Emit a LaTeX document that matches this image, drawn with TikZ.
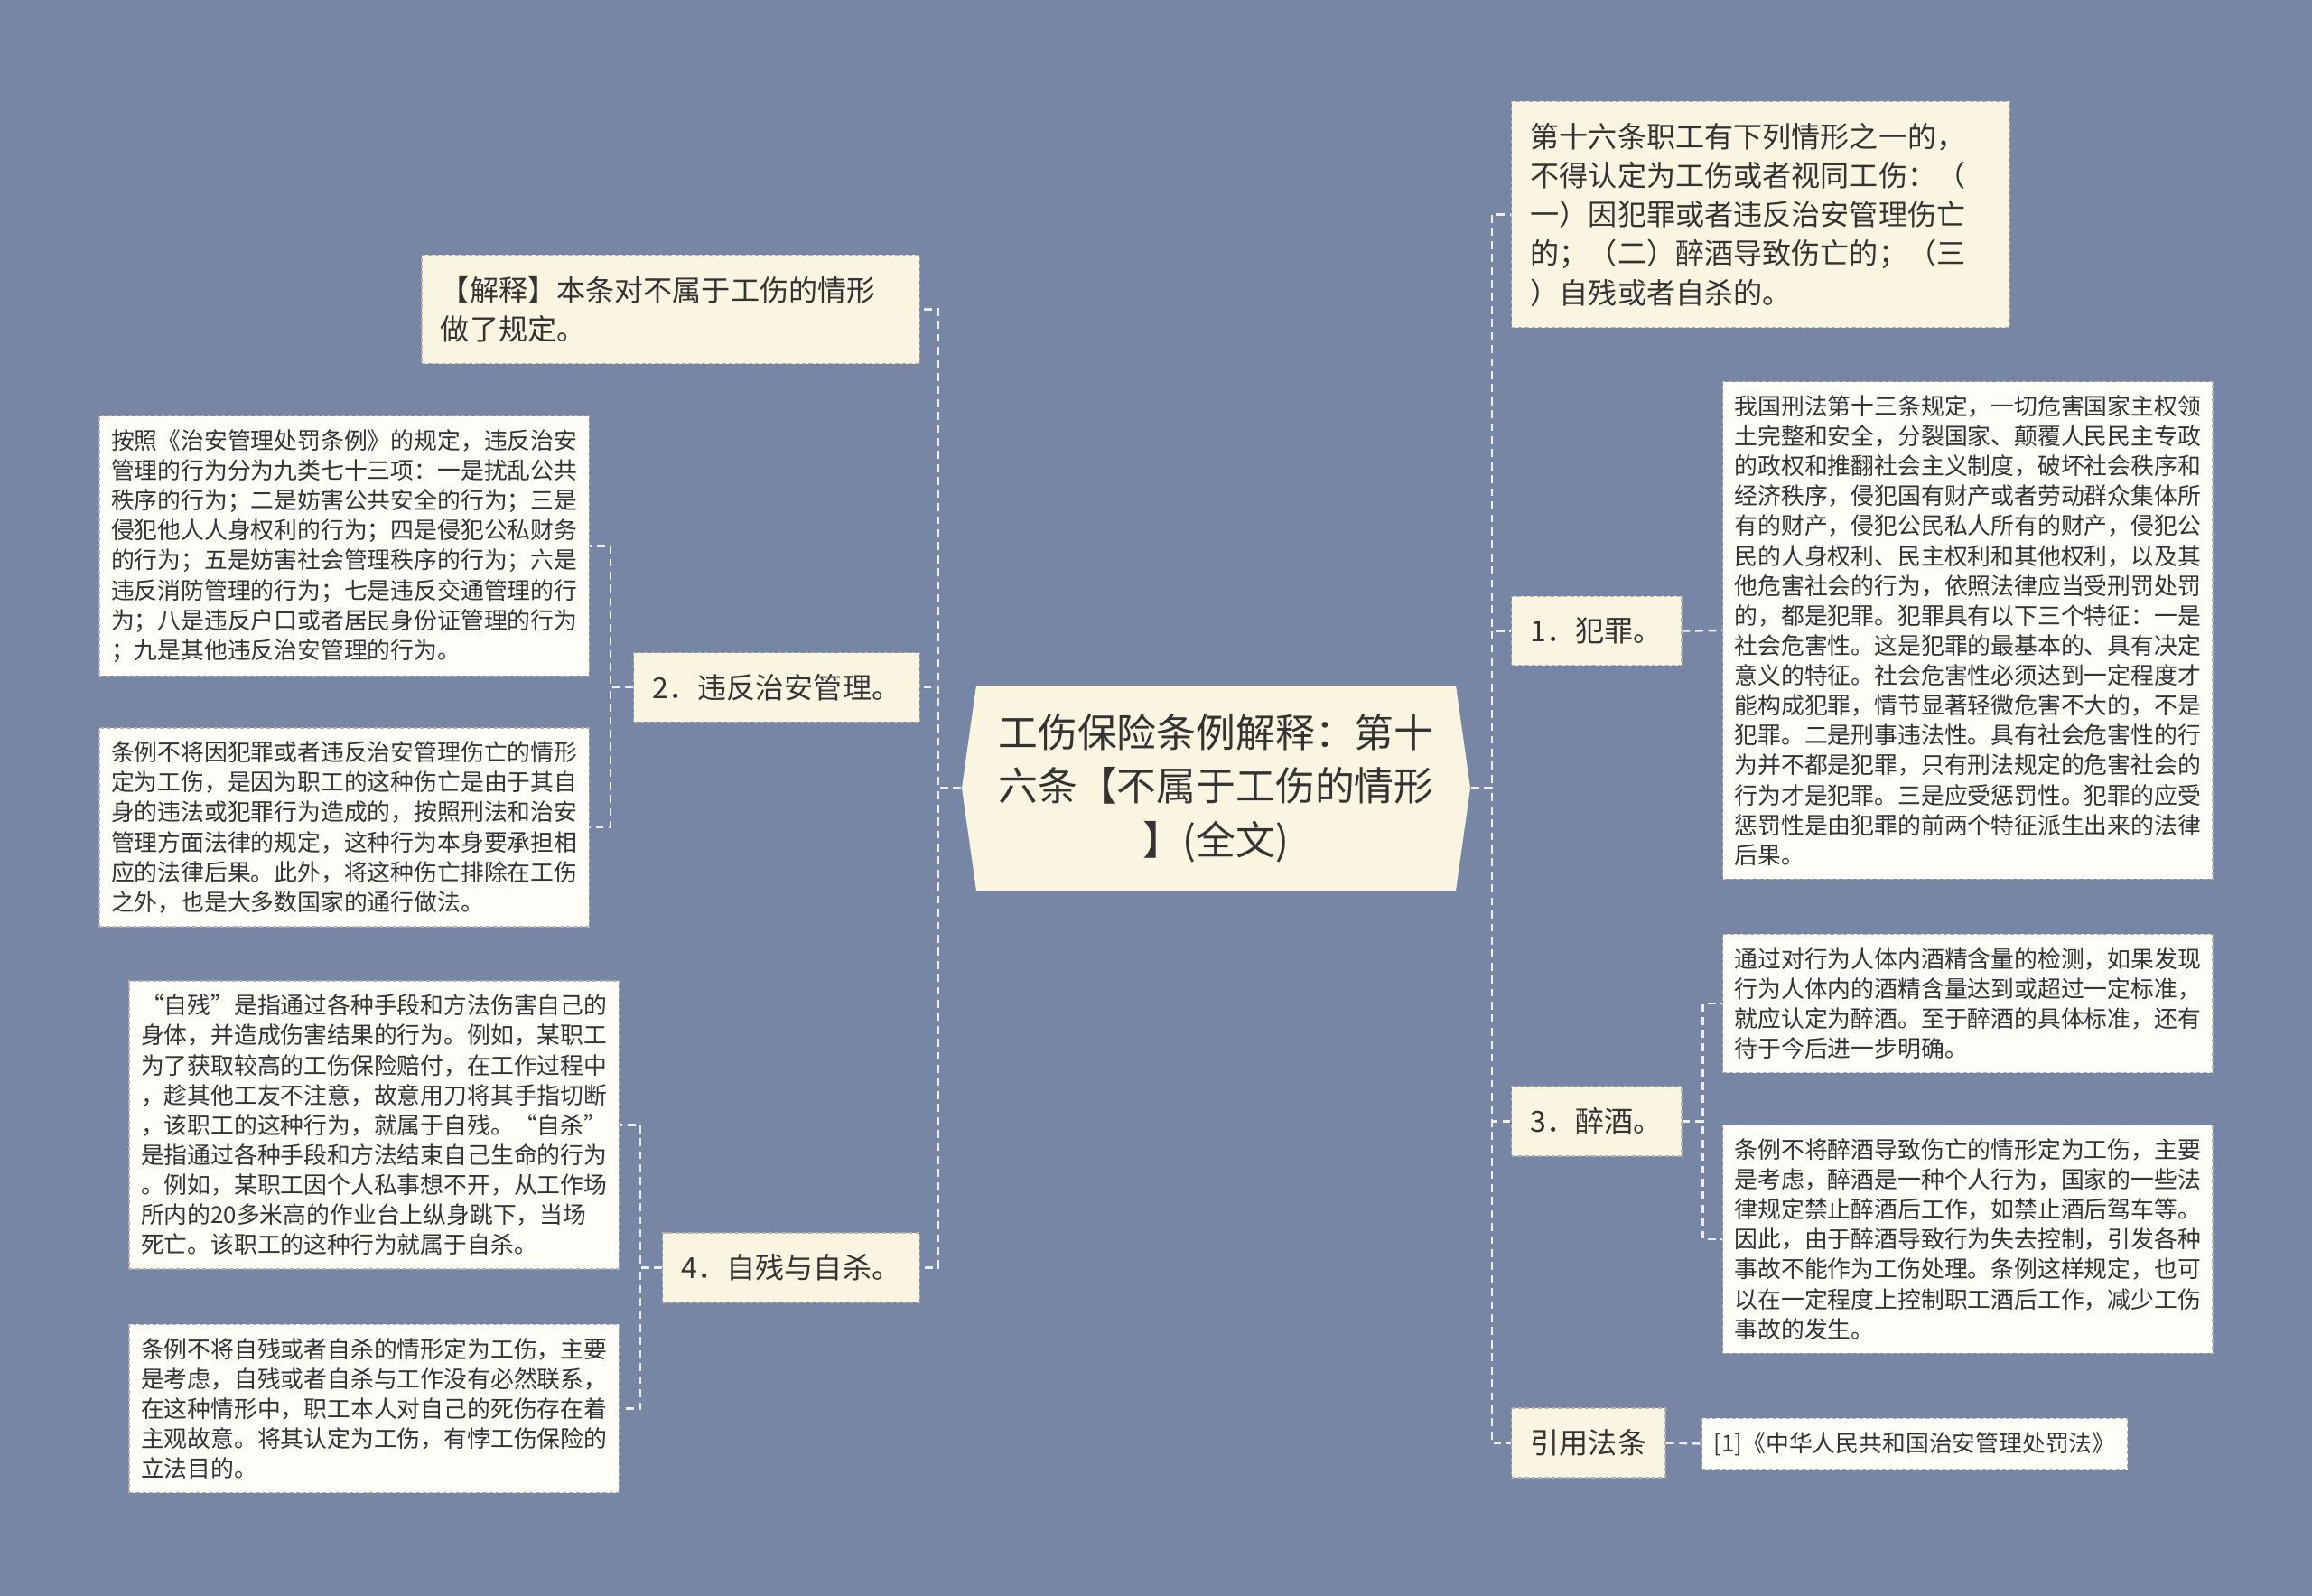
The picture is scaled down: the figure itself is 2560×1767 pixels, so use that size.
\documentclass[tikz,border=0pt]{standalone}
\usepackage{fontspec}
\setmainfont{Noto Sans CJK SC}
\definecolor{bgblue}{HTML}{7886A6}
\definecolor{cream}{HTML}{FAF5E1}
\definecolor{leafwhite}{HTML}{FEFDF7}
\definecolor{inkgray}{HTML}{333333}
\definecolor{edgegray}{HTML}{B4B2A6}
\definecolor{linkwhite}{HTML}{EEEEEE}

\begin{document}
\begin{tikzpicture}[x=0.01cm, y=-0.01cm,
    rootbox/.style={minimum width=5.63cm, minimum height=2.27cm, inner sep=0pt, align=center,
      text=inkgray, font=\fontsize{12.46pt}{16.95pt}\selectfont},
    topic/.style={draw=edgegray, dash pattern=on 1.2pt off 0.9pt, line width=0.4pt, fill=cream,
      inner xsep=0.21cm, inner ysep=0.235cm, text=inkgray, align=left,
      font=\fontsize{9.13pt}{12.3pt}\selectfont},
    widetopic/.style={topic, text width=5.09cm},
    leaf/.style={draw=edgegray, dash pattern=on 1.2pt off 0.9pt, line width=0.4pt, fill=leafwhite,
      inner xsep=0.13cm, inner ysep=0.15cm, text=inkgray, align=left,
      font=\fontsize{7.34pt}{9.42pt}\selectfont},
    link/.style={draw=linkwhite, line width=0.7pt, dash pattern=on 2.5pt off 1.6pt}]

  \fill[bgblue] (0,0) rectangle (2560,1767);

  % centre plate
  \fill[cream] (1081,759) -- (1065,872.5) -- (1081,986) -- (1612,986) -- (1628,872.5) -- (1612,759) -- cycle;
  \node[rootbox] (root) at (1346.5,872.5) {工伤保险条例解释：第十\\六条【不属于工伤的情形\\】(全文)};

  % left branches
  \node[widetopic, anchor=east] (expl) at (1019,342.5) {【解释】本条对不属于工伤的情形\\做了规定。};
  \node[topic, anchor=east] (illegal) at (1019,761) {2．违反治安管理。};
  \node[topic, anchor=east] (suicide) at (1019,1403.5) {4．自残与自杀。};

  \node[leaf, anchor=east] (illegalA) at (653,604.5) {按照《治安管理处罚条例》的规定，违反治安\\
    管理的行为分为九类七十三项：一是扰乱公共\\
    秩序的行为；二是妨害公共安全的行为；三是\\
    侵犯他人人身权利的行为；四是侵犯公私财务\\
    的行为；五是妨害社会管理秩序的行为；六是\\
    违反消防管理的行为；七是违反交通管理的行\\
    为；八是违反户口或者居民身份证管理的行为\\
    ；九是其他违反治安管理的行为。};
  \node[leaf, anchor=east] (illegalB) at (653,916) {条例不将因犯罪或者违反治安管理伤亡的情形\\
    定为工伤，是因为职工的这种伤亡是由于其自\\
    身的违法或犯罪行为造成的，按照刑法和治安\\
    管理方面法律的规定，这种行为本身要承担相\\
    应的法律后果。此外，将这种伤亡排除在工伤\\
    之外，也是大多数国家的通行做法。};

  \node[leaf, anchor=east] (suicideA) at (686,1245.5) {“自残”是指通过各种手段和方法伤害自己的\\
    身体，并造成伤害结果的行为。例如，某职工\\
    为了获取较高的工伤保险赔付，在工作过程中\\
    ，趁其他工友不注意，故意用刀将其手指切断\\
    ，该职工的这种行为，就属于自残。“自杀”\\
    是指通过各种手段和方法结束自己生命的行为\\
    。例如，某职工因个人私事想不开，从工作场\\
    所内的20多米高的作业台上纵身跳下，当场\\
    死亡。该职工的这种行为就属于自杀。};
  \node[leaf, anchor=east] (suicideB) at (686,1559.5) {条例不将自残或者自杀的情形定为工伤，主要\\
    是考虑，自残或者自杀与工作没有必然联系，\\
    在这种情形中，职工本人对自己的死伤存在着\\
    主观故意。将其认定为工伤，有悖工伤保险的\\
    立法目的。};

  % right branches
  \node[widetopic, anchor=west] (art16) at (1673,237.5) {第十六条职工有下列情形之一的，\\
    不得认定为工伤或者视同工伤：（\\
    一）因犯罪或者违反治安管理伤亡\\
    的；（二）醉酒导致伤亡的；（三\\
    ）自残或者自杀的。};
  \node[topic, anchor=west] (crime) at (1673,698.5) {1．犯罪。};
  \node[topic, anchor=west] (drunk) at (1673,1241.5) {3．醉酒。};
  \node[topic, anchor=west] (cite) at (1673,1597.5) {引用法条};

  \node[leaf, anchor=west] (crimeA) at (1907,698) {我国刑法第十三条规定，一切危害国家主权领\\
    土完整和安全，分裂国家、颠覆人民民主专政\\
    的政权和推翻社会主义制度，破坏社会秩序和\\
    经济秩序，侵犯国有财产或者劳动群众集体所\\
    有的财产，侵犯公民私人所有的财产，侵犯公\\
    民的人身权利、民主权利和其他权利，以及其\\
    他危害社会的行为，依照法律应当受刑罚处罚\\
    的，都是犯罪。犯罪具有以下三个特征：一是\\
    社会危害性。这是犯罪的最基本的、具有决定\\
    意义的特征。社会危害性必须达到一定程度才\\
    能构成犯罪，情节显著轻微危害不大的，不是\\
    犯罪。二是刑事违法性。具有社会危害性的行\\
    为并不都是犯罪，只有刑法规定的危害社会的\\
    行为才是犯罪。三是应受惩罚性。犯罪的应受\\
    惩罚性是由犯罪的前两个特征派生出来的法律\\
    后果。};
  \node[leaf, anchor=west] (drunkA) at (1907,1111) {通过对行为人体内酒精含量的检测，如果发现\\
    行为人体内的酒精含量达到或超过一定标准，\\
    就应认定为醉酒。至于醉酒的具体标准，还有\\
    待于今后进一步明确。};
  \node[leaf, anchor=west] (drunkB) at (1907,1372) {条例不将醉酒导致伤亡的情形定为工伤，主要\\
    是考虑，醉酒是一种个人行为，国家的一些法\\
    律规定禁止醉酒后工作，如禁止酒后驾车等。\\
    因此，由于醉酒导致行为失去控制，引发各种\\
    事故不能作为工伤处理。条例这样规定，也可\\
    以在一定程度上控制职工酒后工作，减少工伤\\
    事故的发生。};
  \node[leaf, anchor=west] (citeA) at (1884,1598.5) {[1]《中华人民共和国治安管理处罚法》};

  % connectors
  \coordinate (lbus) at ([xshift=-0.25cm]root.west);
  \coordinate (rbus) at ([xshift=0.23cm]root.east);
  \coordinate (illegalbus) at ([xshift=-0.25cm]illegal.west);
  \coordinate (suicidebus) at ([xshift=-0.24cm]suicide.west);
  \coordinate (drunkbus) at ([xshift=0.23cm]drunk.east);

  \foreach \n in {expl,illegal,suicide}
    \draw[link] (root.west) -- (lbus) |- (\n.east);
  \foreach \n in {art16,crime,drunk,cite}
    \draw[link] (root.east) -- (rbus) |- (\n.west);
  \foreach \n in {illegalA,illegalB}
    \draw[link] (illegal.west) -- (illegalbus) |- (\n.east);
  \foreach \n in {suicideA,suicideB}
    \draw[link] (suicide.west) -- (suicidebus) |- (\n.east);
  \foreach \n in {drunkA,drunkB}
    \draw[link] (drunk.east) -- (drunkbus) |- (\n.west);
  \draw[link] (crime.east) -- (crimeA.west);
  \draw[link] (cite.east) -- (citeA.west);
\end{tikzpicture}
\end{document}
